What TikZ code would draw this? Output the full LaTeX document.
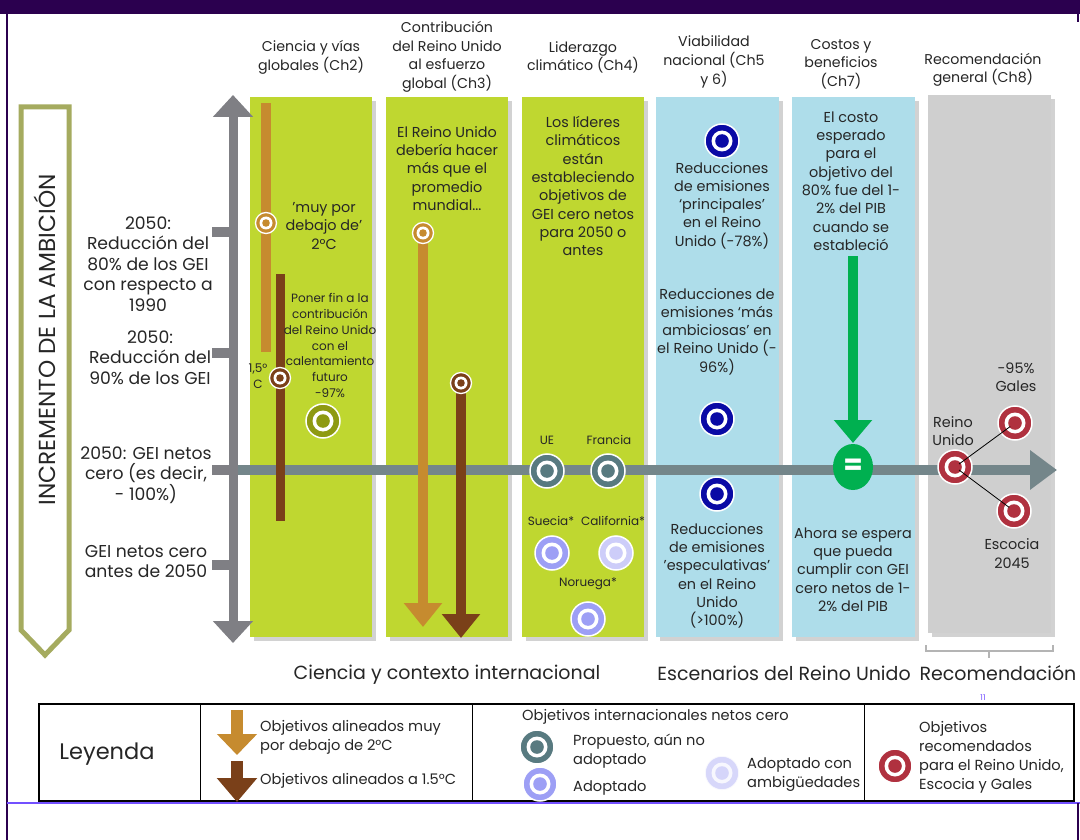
\documentclass[tikz,border=0pt]{standalone}
\usepackage{xcolor}
\usepackage{fontspec}
\setmainfont{Poppins}
\usepackage{tikz}
\usetikzlibrary{arrows.meta, shadows, shapes.geometric}

\definecolor{topbar}{HTML}{2B004F}
\definecolor{pageline}{HTML}{7350FF}
\definecolor{txt}{HTML}{262626}
\definecolor{lime}{HTML}{BFD730}
\definecolor{skyb}{HTML}{AEDDEA}
\definecolor{pgray}{HTML}{CFCFCF}
\definecolor{lbrown}{HTML}{C68B2F}
\definecolor{dbrown}{HTML}{7A4019}
\definecolor{axgray}{HTML}{7F7F84}
\definecolor{axteal}{HTML}{74868A}
\definecolor{chev}{HTML}{A5AB5F}
\definecolor{olive}{HTML}{8E9A12}
\definecolor{teal}{HTML}{587A80}
\definecolor{lav}{HTML}{9D9FF5}
\definecolor{lavl}{HTML}{CDCDF9}
\definecolor{dblue}{HTML}{0A0AA5}
\definecolor{rec}{HTML}{B0313F}
\definecolor{eqgreen}{HTML}{00B050}
\definecolor{brgray}{HTML}{B4B4B4}

\begin{document}
\begin{tikzpicture}[x=1pt, y=-1pt,
  panel/.style={drop shadow={shadow xshift=4pt, shadow yshift=-4pt, opacity=.35}},
  hdr/.style={align=center, inner sep=0pt, text=txt, font=\fontsize{14.2}{18.6}\selectfont},
  body/.style={align=center, inner sep=0pt, text=txt, font=\fontsize{14.4}{18.3}\selectfont},
  side/.style={align=center, inner sep=0pt, text=txt, font=\fontsize{17.2}{20.5}\selectfont},
  small/.style={align=center, inner sep=0pt, text=txt, font=\fontsize{12}{15.8}\selectfont},
  leg/.style={align=left, anchor=west, inner sep=0pt, text=txt, font=\fontsize{14.6}{19}\selectfont},
  big/.style={inner sep=0pt, text=txt, font=\fontsize{19}{20}\selectfont},
  tgt/.style={circle, inner sep=0pt, minimum size=21pt, fill=#1, draw=white, line width=1.3pt,
    path picture={\fill[white] (path picture bounding box.center) circle (6.5);
      \fill[#1] (path picture bounding box.center) circle (3.8);}},
  bigtgt/.style={circle, inner sep=0pt, minimum size=34pt, fill=#1, draw=white, line width=1.5pt,
    path picture={\fill[white] (path picture bounding box.center) circle (10.5);
      \fill[#1] (path picture bounding box.center) circle (6.8);}},
  fat/.style={line width=10pt, -{Triangle[width=37pt, length=24pt]}}
]
\useasboundingbox (0,0) rectangle (1080,840);
\fill[white] (0,0) rectangle (1080,840);
\fill[topbar] (0,0) rectangle (1080,13.8);
\draw[topbar, line width=2pt] (7,13) -- (7,840);
\draw[topbar, line width=2pt] (1078,13) -- (1078,22);

\draw[chev, line width=5pt] (21,107) -- (69,107) -- (69,630) -- (45,655) -- (21,630) -- cycle;
\node[rotate=90, text=txt, inner sep=0pt, font=\fontsize{23.2}{23}\selectfont] (amb) at (45,340) {INCREMENTO DE LA AMBICIÓN};

\fill[lime, panel] (250,97) rectangle (372,637);
\fill[lime, panel] (386,97) rectangle (508,637);
\fill[lime, panel] (522,97) rectangle (644,637);
\fill[skyb, panel] (656,97) rectangle (779,637);
\fill[skyb, panel] (792,97) rectangle (915,637);
\fill[pgray, panel] (928,95) rectangle (1051,633);

\node[hdr] (h2) at (311,57.5) {Ciencia y vías\\globales (Ch2)};
\node[hdr] (h3) at (447,57) {Contribución\\del Reino Unido\\al esfuerzo\\global (Ch3)};
\node[hdr] (h4) at (583,57.5) {Liderazgo\\climático (Ch4)};
\node[hdr] (h5) at (714,62) {Viabilidad\\nacional (Ch5\\y 6)};
\node[hdr] (h7) at (841,64) {Costos y\\beneficios\\(Ch7)};
\node[hdr] (h8) at (983,70) {Recomendación\\general (Ch8)};

\coordinate (ytop) at (233,95);
\coordinate (ybot) at (233,643);
\draw[axgray, line width=9pt, {Triangle[width=39pt, length=22pt]}-{Triangle[width=39pt, length=22pt]}] (ytop) -- (ybot);
\draw[axgray, line width=10pt] (212,232) -- (233,232);
\draw[axgray, line width=10pt] (212,353) -- (233,353);
\draw[axgray, line width=10pt] (212,470) -- (233,470);
\draw[axgray, line width=10pt] (212,565) -- (233,565);
\node[side] (l80) at (148,264) {2050:\\Reducción del\\80\% de los GEI\\con respecto a\\1990};
\node[side] (l90) at (150,357.5) {2050:\\Reducción del\\90\% de los GEI};
\node[side] (l100) at (146,475) {2050: GEI netos\\cero (es decir,\\- 100\%)};
\node[side] (lant) at (146,561.5) {GEI netos cero\\antes de 2050};

\coordinate (xs) at (238,470);
\coordinate (xe) at (1057,470);
\draw[axteal, line width=10pt, -{Triangle[width=38pt, length=27pt]}] (xs) -- (xe);

\fill[lbrown] (261,103) rectangle (271,352);
\fill[dbrown] (275.5,274) rectangle (284.5,521);
\node[tgt=lbrown] (c2a) at (266,223) {};
\node[tgt=dbrown] (c15) at (280,378) {};
\node[body] (muy) at (324,226) {'muy por\\debajo de'\\2°C};
\node[small] (fin) at (330,345.5) {Poner fin a la\\contribución\\del Reino Unido\\con el\\calentamiento\\futuro\\-97\%};
\node[small] (g15) at (258,376) {1,5°\\C};
\node[bigtgt=olive] (c97) at (323,421) {};

\node[body] (prom) at (447,168.5) {El Reino Unido\\debería hacer\\más que el\\promedio\\mundial...};
\draw[lbrown, fat] (423,233) -- (423,627);
\draw[dbrown, fat] (461,383) -- (461,638);
\node[tgt=lbrown] (r2) at (423,233) {};
\node[tgt=dbrown] (r15) at (461,383) {};

\node[body] (lid) at (583,186) {Los líderes\\climáticos\\están\\estableciendo\\objetivos de\\GEI cero netos\\para 2050 o\\antes};
\node[small] (nue) at (547,440) {UE};
\node[small] (nfr) at (609,440) {Francia};
\node[bigtgt=teal] (ue) at (547,471) {};
\node[bigtgt=teal] (fr) at (608,471) {};
\node[small] (nse) at (551,521) {Suecia*};
\node[small] (nca) at (613,521) {California*};
\node[bigtgt=lav] (se) at (552,553) {};
\node[bigtgt=lavl] (ca) at (616,553) {};
\node[small] (nno) at (588,584) {Noruega*};
\node[bigtgt=lav] (no) at (588,619) {};

\node[bigtgt=dblue] (p78) at (722,141) {};
\node[body] (t78) at (722,205.5) {Reducciones\\de emisiones\\‘principales’\\en el Reino\\Unido (-78\%)};
\node[body] (t96) at (717,331.5) {Reducciones de\\emisiones ‘más\\ambiciosas’ en\\el Reino Unido (-\\96\%)};
\node[bigtgt=dblue] (p96) at (717,419) {};
\node[bigtgt=dblue] (p100) at (717,494) {};
\node[body] (t100) at (717,576) {Reducciones\\de emisiones\\'especulativas'\\en el Reino\\Unido\\(>100\%)};

\node[body] (cost) at (851,181) {El costo\\esperado\\para el\\objetivo del\\80\% fue del 1-\\2\% del PIB\\cuando se\\estableció};
\draw[eqgreen, line width=10pt, -{Triangle[width=37pt, length=23pt]}] (853,256) -- (853,443);
\node[ellipse, fill=eqgreen, minimum width=40pt, minimum height=46pt, inner sep=0pt, text=white, font=\fontsize{28}{28}\bfseries] (eq) at (853,467) {=};
\node[body] (ahora) at (853,569.5) {Ahora se espera\\que pueda\\cumplir con GEI\\cero netos de 1-\\2\% del PIB};

\node[body] (nru) at (953,431) {Reino\\Unido};
\node[bigtgt=rec] (ru) at (955,467) {};
\node[bigtgt=rec] (gal) at (1015,423) {};
\node[bigtgt=rec] (esc) at (1014,511) {};
\draw[black, line width=0.8pt, shorten <=5pt, shorten >=6pt] (ru.center) -- (gal.center);
\draw[black, line width=0.8pt, shorten <=5pt, shorten >=6pt] (ru.center) -- (esc.center);
\node[body] (ngal) at (1016,377) {-95\%\\Gales};
\node[body] (nesc) at (1012,553.5) {Escocia\\2045};

\draw[brgray, line width=2pt] (926,645) -- (926,651) -- (1053,651) -- (1053,645);
\draw[brgray, line width=2pt] (989,651) -- (989,658);
\node[big] (bint) at (447,675) {Ciencia y contexto internacional};
\node[big] (bru) at (784,673) {Escenarios del Reino Unido};
\node[big] (brec) at (998,673) {Recomendación};
\node[text=pageline, inner sep=0pt, font=\fontsize{8}{8}\selectfont] (pg) at (983,698) {11};

\draw[line width=1.5pt] (39,704) rectangle (1074,801);
\draw[line width=1pt] (200,704) -- (200,803);
\draw[line width=1pt] (472,704) -- (472,803);
\draw[line width=1pt] (864,704) -- (864,803);
\node[inner sep=0pt, text=txt, font=\fontsize{22.5}{22}\selectfont] (ley) at (107,754) {Leyenda};
\draw[lbrown, line width=12pt, -{Triangle[width=39pt, length=21pt]}] (237,710) -- (237,755);
\draw[dbrown, line width=12pt, -{Triangle[width=39pt, length=24pt]}] (237,761) -- (237,802);
\node[leg] (l2) at (260,737.5) {Objetivos alineados muy\\por debajo de 2°C};
\node[leg] (l15) at (260,781) {Objetivos alineados a 1.5°C};
\node[leg] (lint) at (522,717) {Objetivos internacionales netos cero};
\node[bigtgt=teal] (kp) at (537,747) {};
\node[leg] (lp) at (573,751.5) {Propuesto, aún no\\adoptado};
\node[bigtgt=lav] (ka) at (540,784) {};
\node[leg] (la) at (573,788) {Adoptado};
\node[bigtgt=lavl, opacity=.8] (kc) at (722,773) {};
\node[leg] (lc) at (747,774.5) {Adoptado con\\ambigüedades};
\node[bigtgt=rec] (kr) at (895,766) {};
\node[leg] (lr) at (919,757.5) {Objetivos\\recomendados\\para el Reino Unido,\\Escocia y Gales};

\draw[pageline, line width=2pt] (7,803) -- (1080,803);
\draw[topbar, line width=2pt] (1078,803) -- (1078,840);

\end{tikzpicture}
\end{document}
